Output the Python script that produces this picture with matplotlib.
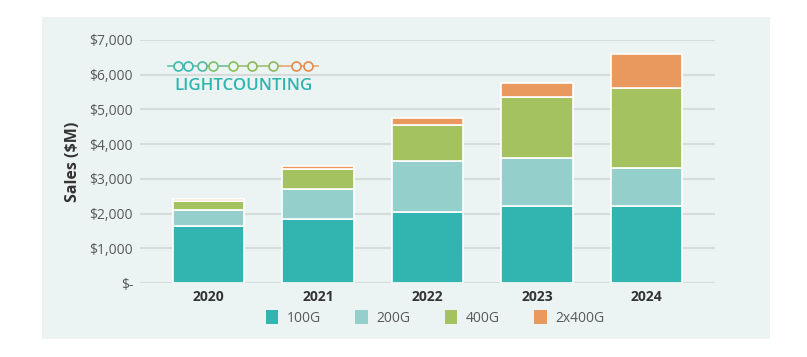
import numpy as np
import matplotlib.pyplot as plt
from matplotlib.patches import Rectangle

plt.rcParams['font.family'] = ['Open Sans', 'DejaVu Sans']

years = ['2020', '2021', '2022', '2023', '2024']
series = ['100G', '200G', '400G', '2x400G']
s100 = [1650, 1850, 2040, 2210, 2210]
s200 = [450, 860, 1460, 1380, 1095]
s400 = [250, 575, 1060, 1780, 2325]
s2x400 = [80, 75, 180, 385, 960]
colors = ['#32B4B0', '#94CFCC', '#A5C261', '#E9985E']

yticks = [0, 1000, 2000, 3000, 4000, 5000, 6000, 7000]
ytick_labels = ['$-', '$1,000', '$2,000', '$3,000', '$4,000', '$5,000', '$6,000', '$7,000']

W, H = 807, 357
fig = plt.figure(figsize=(W / 100, H / 100), dpi=100, facecolor='white')
# light panel behind the chart
fig.patches.append(Rectangle((42 / W, 1 - 339 / H), (770 - 42) / W, (339 - 17) / H,
                             transform=fig.transFigure, facecolor='#EBF4F2',
                             edgecolor='none', zorder=-5))

ax = fig.add_axes([140 / W, 1 - 283 / H, (715 - 140) / W, (283 - 40) / H])
ax.set_facecolor('none')

x = np.arange(len(years))
bottom = np.zeros(len(years))
for name, vals, c in zip(series, [s100, s200, s400, s2x400], colors):
    ax.bar(x, vals, 0.65, bottom=bottom, color=c, edgecolor='white',
           linewidth=1.2, label=name, zorder=3)
    bottom += np.array(vals)

ax.set_xlim(-0.625, 4.625)
ax.set_ylim(0, 7000)
ax.set_yticks(yticks)
ax.set_yticklabels(ytick_labels, color='#595959', fontsize=10)
ax.set_xticks(x)
ax.set_xticklabels(years, fontweight='bold', color='#333333', fontsize=10)
ax.tick_params(length=0)
ax.tick_params(axis='y', pad=5)
ax.tick_params(axis='x', pad=5)
ax.grid(axis='y', color='#D6DCDB', linewidth=1.5, zorder=0)
ax.set_axisbelow(True)
for sp in ax.spines.values():
    sp.set_visible(False)
ax.set_ylabel('Sales ($M)', fontweight='bold', color='#333333', fontsize=11.5, labelpad=6)

# logo
ly = 1 - 66 / H
fig.add_artist(plt.Line2D([168 / W, 230 / W], [ly, ly], color='#6CBFA0', lw=1.2, transform=fig.transFigure))
fig.add_artist(plt.Line2D([230 / W, 280 / W], [ly, ly], color='#9DBF78', lw=1.2, transform=fig.transFigure))
fig.add_artist(plt.Line2D([280 / W, 318 / W], [ly, ly], color='#E8A878', lw=1.2, transform=fig.transFigure))
circ_x = [178, 188, 202, 213, 233, 252, 273, 296, 308]
circ_c = ['#3DB8B0', '#3DB8B0', '#55B89E', '#7DBF6A', '#86BF5C', '#8CB85C', '#8DB860', '#E8884A', '#E8884A']
for cx, cc in zip(circ_x, circ_c):
    fig.add_artist(plt.Line2D([cx / W], [ly], marker='o', markersize=6.5, markerfacecolor='#EBF4F2',
                              markeredgecolor=cc, markeredgewidth=1.2, transform=fig.transFigure))
fig.text(243.5 / W, 1 - 86 / H, 'LIGHTCOUNTING', color='#2EB5AE', fontsize=12.2,
         fontweight='semibold', ha='center', va='center')

leg = fig.legend(loc='center', bbox_to_anchor=(435 / W, 1 - 318 / H), ncol=4, frameon=False,
                 fontsize=10, handlelength=0.9, handleheight=1.2, columnspacing=2.5,
                 handletextpad=0.6, labelcolor='#595959')
for h in leg.legend_handles:
    h.set_edgecolor('none')

fig.savefig('out.png', dpi=100)
